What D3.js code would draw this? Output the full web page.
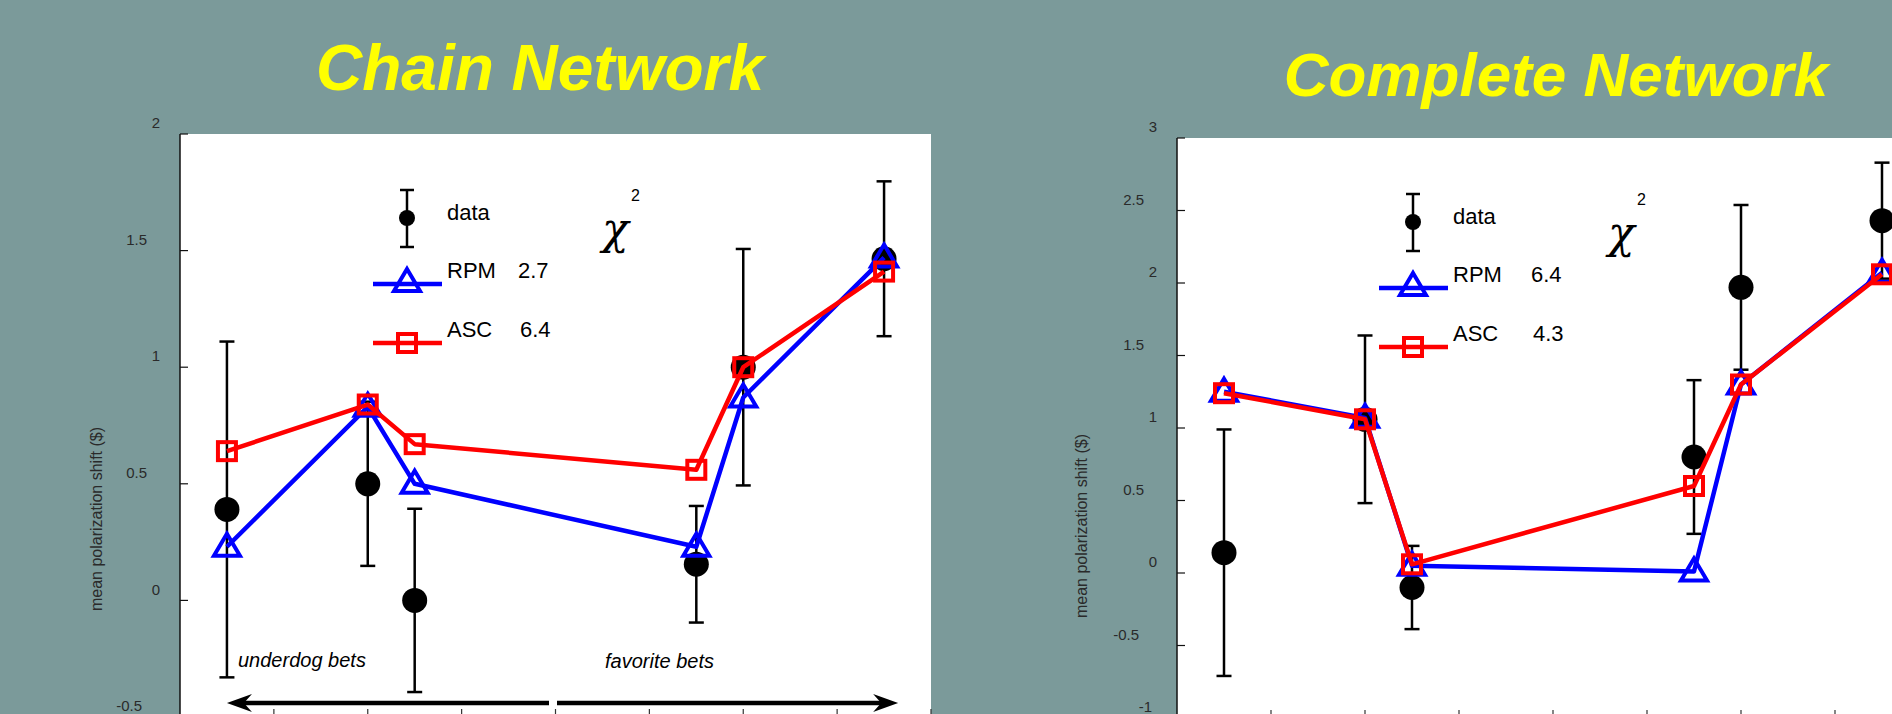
<!DOCTYPE html>
<html>
<head>
<meta charset="utf-8">
<script src="https://cdn.jsdelivr.net/npm/d3@7"></script>
<style>
  html, body { margin: 0; padding: 0; background: #7b9a9a; }
  svg { display: block; }
</style>
</head>
<body>
<div id="chart"></div>
<script>
// bet categories (same positions in both panels)
const betX = [0.5, 2, 2.5, 5.5, 6, 7.5];
const xTicks = [1, 2, 3, 4, 5, 6, 7, 8];

// Chain network
const chainData = [0.39, 0.50, 0.00, 0.155, 1.00, 1.465];
const chainErr = [0.72, 0.352, 0.393, 0.25, 0.507, 0.332];
const chainRPM = [0.23, 0.83, 0.50, 0.23, 0.87, 1.47];
const chainASC = [0.64, 0.84, 0.67, 0.56, 1.00, 1.41];
const chainChi = ["2.7", "6.4"];
const chainYTicks = [-0.5, 0, 0.5, 1, 1.5, 2];

// Complete network
const completeData = [0.14, 1.06, -0.10, 0.80, 1.97, 2.43];
const completeErr = [0.85, 0.578, 0.287, 0.53, 0.568, 0.40];
const completeRPM = [1.25, 1.07, 0.05, 0.01, 1.30, 2.07];
const completeASC = [1.24, 1.06, 0.06, 0.60, 1.30, 2.06];
const completeChi = ["6.4", "4.3"];
const completeYTicks = [-1, -0.5, 0, 0.5, 1, 1.5, 2, 2.5, 3];

const W = 1892, H = 714;

const svg = d3.select("#chart")
    .append("svg")
    .attr("width", W)
    .attr("height", H)
    .attr("font-family", "'Liberation Sans', Arial, sans-serif");

svg.append("rect").attr("width", W).attr("height", H).attr("fill", "#7b9a9a");

const panels = [
    {
        title: "Chain Network", titleX: 540, titleY: 90, titleSize: 64,
        left: 180, right: 931, top: 134, bottom: 717,
        yDomain: [-0.5, 2], yTicks: chainYTicks,
        data: chainData, err: chainErr, rpm: chainRPM, asc: chainASC, chi: chainChi,
        yTitleX: 96, yTitleY: 519,
        legBar: 407, legL1: 373, legL2: 442, legText: 447, legVal: 518,
        chiX: 602, arrows: true
    },
    {
        title: "Complete Network", titleX: 1556, titleY: 96, titleSize: 62,
        left: 1177, right: 1929, top: 138, bottom: 718,
        yDomain: [-1, 3], yTicks: completeYTicks,
        data: completeData, err: completeErr, rpm: completeRPM, asc: completeASC, chi: completeChi,
        yTitleX: 1081, yTitleY: 526,
        legBar: 1413, legL1: 1379, legL2: 1448, legText: 1453, legVal: 1531,
        chiX: 1608, arrows: false
    }
];

function triangle(cx, cy) {
    return `M${cx},${cy - 13}L${cx + 13},${cy + 9}L${cx - 13},${cy + 9}Z`;
}

panels.forEach(p => {
    const x = d3.scaleLinear().domain([0, 8]).range([p.left, p.right]);
    const y = d3.scaleLinear().domain(p.yDomain).range([p.bottom, p.top]);

    // title
    svg.append("text")
        .attr("x", p.titleX)
        .attr("y", p.titleY)
        .attr("text-anchor", "middle")
        .attr("fill", "#ffff00")
        .attr("font-weight", "bold")
        .attr("font-style", "italic")
        .attr("font-size", p.titleSize)
        .text(p.title);

    // plot background
    svg.append("rect")
        .attr("x", p.left)
        .attr("y", p.top)
        .attr("width", p.right - p.left)
        .attr("height", p.bottom - p.top)
        .attr("fill", "#fff");

    // y axis
    svg.append("line")
        .attr("x1", p.left).attr("x2", p.left)
        .attr("y1", p.top).attr("y2", p.bottom)
        .attr("stroke", "#111").attr("stroke-width", 1.5);

    svg.append("g").selectAll("line")
        .data(p.yTicks)
        .join("line")
        .attr("x1", p.left).attr("x2", p.left + 8)
        .attr("y1", d => y(d)).attr("y2", d => y(d))
        .attr("stroke", "#111").attr("stroke-width", 1.2);

    // tick labels sit above the tick, odd alignment like the original
    svg.append("g").selectAll("text")
        .data(p.yTicks)
        .join("text")
        .attr("x", d => p.left - 20 - (Number.isInteger(d) ? 0 : 13) - (d < 0 ? 5 : 0))
        .attr("y", d => y(d) - 11)
        .attr("dy", "0.35em")
        .attr("text-anchor", "end")
        .attr("font-size", 15)
        .attr("fill", "#2a2a2a")
        .text(d => String(d));

    svg.append("text")
        .attr("transform", `translate(${p.yTitleX},${p.yTitleY})rotate(-90)`)
        .attr("text-anchor", "middle")
        .attr("dy", "0.35em")
        .attr("font-size", 16)
        .attr("fill", "#2a2a2a")
        .text("mean polarization shift ($)");

    // x ticks pointing up from the (clipped) bottom axis
    svg.append("g").selectAll("line")
        .data(xTicks)
        .join("line")
        .attr("x1", d => x(d)).attr("x2", d => x(d))
        .attr("y1", p.bottom).attr("y2", p.bottom - 8)
        .attr("stroke", "#333").attr("stroke-width", 1.2);

    // data error bars
    const idx = d3.range(betX.length);
    const eb = svg.append("g").attr("stroke", "#000").attr("stroke-width", 2.5);
    eb.selectAll("line.v").data(idx).join("line").attr("class", "v")
        .attr("x1", i => x(betX[i])).attr("x2", i => x(betX[i]))
        .attr("y1", i => y(p.data[i] + p.err[i])).attr("y2", i => y(p.data[i] - p.err[i]));
    eb.selectAll("line.t").data(idx).join("line").attr("class", "t")
        .attr("x1", i => x(betX[i]) - 7.5).attr("x2", i => x(betX[i]) + 7.5)
        .attr("y1", i => y(p.data[i] + p.err[i])).attr("y2", i => y(p.data[i] + p.err[i]));
    eb.selectAll("line.b").data(idx).join("line").attr("class", "b")
        .attr("x1", i => x(betX[i]) - 7.5).attr("x2", i => x(betX[i]) + 7.5)
        .attr("y1", i => y(p.data[i] - p.err[i])).attr("y2", i => y(p.data[i] - p.err[i]));
    svg.append("g").selectAll("circle").data(idx).join("circle")
        .attr("cx", i => x(betX[i]))
        .attr("cy", i => y(p.data[i]))
        .attr("r", 12.5)
        .attr("fill", "#000");

    // RPM
    const line = d3.line().x(d => x(d[0])).y(d => y(d[1]));
    svg.append("path")
        .attr("d", line(betX.map((v, i) => [v, p.rpm[i]])))
        .attr("fill", "none").attr("stroke", "#0000ff").attr("stroke-width", 4.5)
        .attr("stroke-linejoin", "round");
    svg.append("g").selectAll("path").data(idx).join("path")
        .attr("d", i => triangle(x(betX[i]), y(p.rpm[i])))
        .attr("fill", "none").attr("stroke", "#0000ff").attr("stroke-width", 4);

    // ASC
    svg.append("path")
        .attr("d", line(betX.map((v, i) => [v, p.asc[i]])))
        .attr("fill", "none").attr("stroke", "#ff0000").attr("stroke-width", 4.5)
        .attr("stroke-linejoin", "round");
    svg.append("g").selectAll("rect").data(idx).join("rect")
        .attr("x", i => x(betX[i]) - 9)
        .attr("y", i => y(p.asc[i]) - 9)
        .attr("width", 18).attr("height", 18)
        .attr("fill", "none").attr("stroke", "#ff0000").attr("stroke-width", 4);

    // legend
    const t = p.top;
    const leg = svg.append("g");
    leg.append("line")
        .attr("x1", p.legBar).attr("x2", p.legBar)
        .attr("y1", t + 56).attr("y2", t + 113)
        .attr("stroke", "#000").attr("stroke-width", 2.5);
    [t + 56, t + 113].forEach(cy => leg.append("line")
        .attr("x1", p.legBar - 7).attr("x2", p.legBar + 7)
        .attr("y1", cy).attr("y2", cy)
        .attr("stroke", "#000").attr("stroke-width", 2.5));
    leg.append("circle").attr("cx", p.legBar).attr("cy", t + 84).attr("r", 8).attr("fill", "#000");

    leg.append("line")
        .attr("x1", p.legL1).attr("x2", p.legL2)
        .attr("y1", t + 150).attr("y2", t + 150)
        .attr("stroke", "#0000ff").attr("stroke-width", 4.5);
    leg.append("path")
        .attr("d", triangle(p.legBar, t + 148))
        .attr("fill", "none").attr("stroke", "#0000ff").attr("stroke-width", 4);

    leg.append("line")
        .attr("x1", p.legL1).attr("x2", p.legL2)
        .attr("y1", t + 209).attr("y2", t + 209)
        .attr("stroke", "#ff0000").attr("stroke-width", 4.5);
    leg.append("rect")
        .attr("x", p.legBar - 9).attr("y", t + 200)
        .attr("width", 18).attr("height", 18)
        .attr("fill", "none").attr("stroke", "#ff0000").attr("stroke-width", 4);

    const labels = [["data", "", 78], ["RPM", p.chi[0], 136], ["ASC", p.chi[1], 195]];
    labels.forEach(([name, val, dy]) => {
        leg.append("text")
            .attr("x", p.legText).attr("y", t + dy)
            .attr("dy", "0.35em")
            .attr("font-size", 22).attr("fill", "#000")
            .text(name);
        if (val) leg.append("text")
            .attr("x", p.legVal + (name === "ASC" ? 2 : 0)).attr("y", t + dy)
            .attr("dy", "0.35em")
            .attr("font-size", 22).attr("fill", "#000")
            .text(val);
    });

    // chi-square header
    leg.append("text")
        .attr("x", p.chiX).attr("y", t + 110)
        .attr("font-family", "'DejaVu Serif', serif")
        .attr("font-style", "italic")
        .attr("font-size", 44)
        .attr("font-weight", 200)
        .text("χ");
    leg.append("text")
        .attr("x", p.chiX + 29).attr("y", t + 67)
        .attr("font-size", 16)
        .text("2");

    // underdog / favorite arrows
    if (p.arrows) {
        const ay = 703;
        const g = svg.append("g");
        g.append("text")
            .attr("x", 238).attr("y", 667)
            .attr("font-style", "italic").attr("font-size", 20)
            .text("underdog bets");
        g.append("text")
            .attr("x", 605).attr("y", 668)
            .attr("font-style", "italic").attr("font-size", 20)
            .text("favorite bets");
        const lx = x(0.5), rx = x(7.65);
        g.append("line").attr("x1", lx + 16).attr("x2", 549).attr("y1", ay).attr("y2", ay)
            .attr("stroke", "#000").attr("stroke-width", 4.5);
        g.append("line").attr("x1", 557).attr("x2", rx - 16).attr("y1", ay).attr("y2", ay)
            .attr("stroke", "#000").attr("stroke-width", 4.5);
        g.append("path")
            .attr("d", `M${lx},${ay}L${lx + 25},${ay - 9}L${lx + 17},${ay}L${lx + 25},${ay + 9}Z`)
            .attr("fill", "#000");
        g.append("path")
            .attr("d", `M${rx},${ay}L${rx - 25},${ay - 9}L${rx - 17},${ay}L${rx - 25},${ay + 9}Z`)
            .attr("fill", "#000");
    }
});
</script>
</body>
</html>
